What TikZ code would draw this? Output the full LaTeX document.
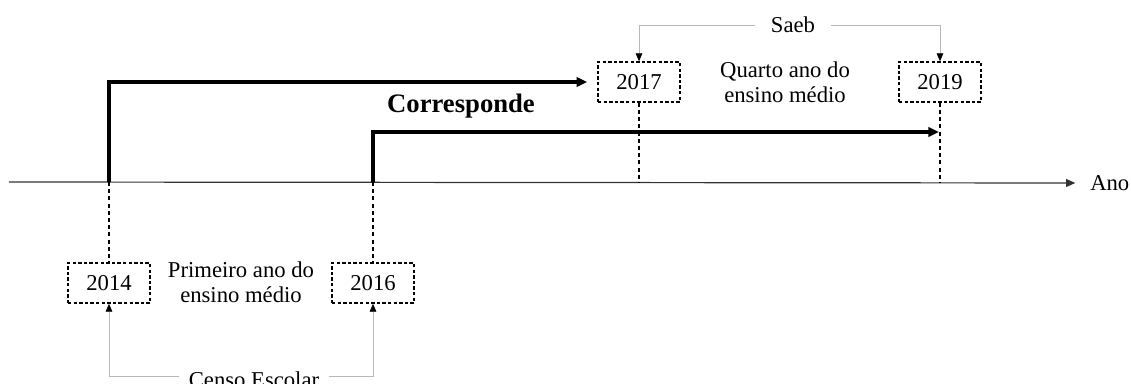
\documentclass[tikz,border=0pt]{standalone}
\usepackage{fontspec}
\setmainfont{Liberation Serif}
\usetikzlibrary{arrows.meta}
\tikzset{
  yearbox/.style={draw, line width=1.1pt, dash pattern=on 2.6pt off 1.6pt, minimum width=61.5pt, minimum height=30pt, inner sep=2pt},
  guide/.style={draw, line width=0.8pt, dash pattern=on 3pt off 2.4pt},
  bigarrow/.style={line width=2.3pt, -{Triangle[length=8pt,width=7pt]}},
  grayarrow/.style={draw=black!28, line width=0.6pt, -{Triangle[length=6pt,width=5pt,color=black]}}
}
\begin{document}
\begin{tikzpicture}[x=0.75pt,y=-0.75pt,font=\fontsize{17}{19}\selectfont]
  \useasboundingbox (0,0) rectangle (1131,383);
  % eixo do tempo
  \coordinate (ax0) at (9,182);
  \node[anchor=west, inner sep=0pt] (ano) at (1090,183) {Ano};
  \draw[black!80, line width=0.9pt, -{Triangle[length=7pt,width=6pt]}, shorten >=11pt] (ax0) -- (ano.west);
  % anos
  \node[yearbox] (y2014) at (109,283) {2014};
  \node[yearbox] (y2016) at (373,283) {2016};
  \node[yearbox] (y2017) at (639,82) {2017};
  \node[yearbox] (y2019) at (940,82) {2019};
  \node[align=center] (primeiro) at (241,282) {Primeiro ano do\\ensino médio};
  \node[align=center] (quarto) at (785,82) {Quarto ano do\\ensino médio};
  \draw[guide] (y2014 |- ax0) -- (y2014.north);
  \draw[guide] (y2016 |- ax0) -- (y2016.north);
  \draw[guide] (y2017.south) -- (y2017 |- ax0);
  \draw[guide] (y2019.south) -- (y2019 |- ax0);
  % corresponde
  \node[font=\fontsize{20}{24}\selectfont\bfseries] (corr) at (461,106) {Corresponde};
  \coordinate (e19) at (939,132);
  \draw[bigarrow] (y2014 |- ax0) |- ([xshift=-7.5pt]y2017.west);
  \draw[bigarrow] (y2016 |- ax0) |- (e19);
  % fontes
  \node[inner xsep=12pt] (saeb) at (793,25) {Saeb};
  \draw[grayarrow] (saeb.west) -| (y2017.north);
  \draw[grayarrow] (saeb.east) -| (y2019.north);
  \node[inner xsep=7pt] (censo) at (254,380) {Censo Escolar};
  \draw[grayarrow] ([yshift=3pt]censo.west) -| (y2014.south);
  \draw[grayarrow] ([yshift=3pt]censo.east) -| (y2016.south);
\end{tikzpicture}
\end{document}
